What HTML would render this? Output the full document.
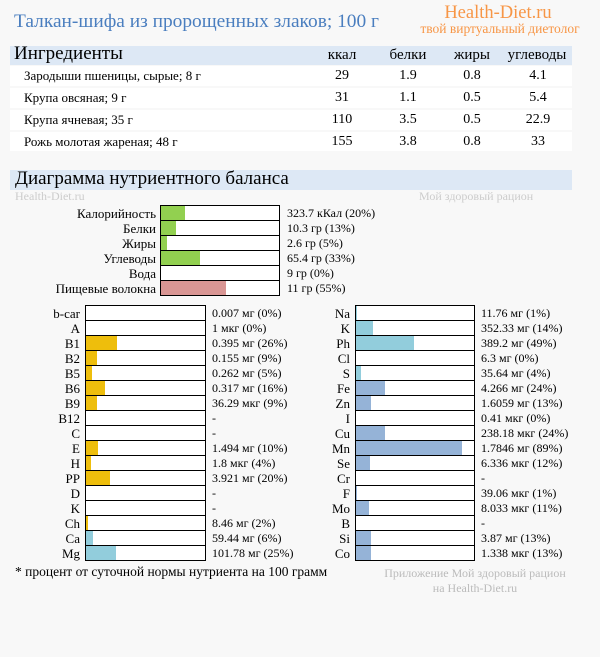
<!DOCTYPE html><html><head><meta charset="utf-8"><style>
body{margin:0;width:600px;height:657px;background:#f8f8f8;font-family:"Liberation Serif",serif;position:relative;overflow:hidden;color:#000}
div{position:absolute;white-space:nowrap}
.t{font-size:12px;line-height:15px}
.l{font-size:13px;line-height:15px}
.b{border:1px solid #000;background:#fff;height:14px}
.b i{position:absolute;left:0;top:0;height:14px;display:block}
.y{background:#eebe0c}.c{background:#92cddc}.s{background:#95b3d7}.g{background:#92d050}.p{background:#d99694}
.r{text-align:right}
.h{font-size:15px;text-align:center;width:80px}
.v{font-size:14px;text-align:center;width:80px;line-height:22px}
</style></head><body>
<div style="left:14px;top:11px;font-size:19.4px;color:#4a7ebf">Талкан-шифа из пророщенных злаков; 100 г</div>
<div style="left:438px;top:3px;width:120px;text-align:center;font-size:18.5px;color:#f79646">Health-Diet.ru</div>
<div style="left:400px;top:21px;width:200px;text-align:center;font-size:13.5px;color:#f79646">твой виртуальный диетолог</div>
<div style="left:10px;top:46px;width:562px;height:19px;background:#dde8f5"></div>
<div style="left:14px;top:43px;font-size:19px">Ингредиенты</div>
<div class="h" style="left:302px;top:47px">ккал</div>
<div class="h" style="left:368px;top:47px">белки</div>
<div class="h" style="left:432px;top:47px">жиры</div>
<div class="h" style="left:497px;top:47px">углеводы</div>
<div style="left:10px;top:66px;width:562px;height:20px;background:#fff"></div>
<div style="left:10px;top:88px;width:562px;height:20px;background:#fff"></div>
<div style="left:10px;top:110px;width:562px;height:20px;background:#fff"></div>
<div style="left:10px;top:132px;width:562px;height:19px;background:#fff"></div>
<div style="left:24px;top:65px;font-size:13px;line-height:22px">Зародыши пшеницы, сырые; 8 г<br>Крупа овсяная; 9 г<br>Крупа ячневая; 35 г<br>Рожь молотая жареная; 48 г</div>
<div class="v" style="left:302px;top:65px">29<br>31<br>110<br>155</div>
<div class="v" style="left:368px;top:65px">1.9<br>1.1<br>3.5<br>3.8</div>
<div class="v" style="left:432px;top:65px">0.8<br>0.5<br>0.5<br>0.8</div>
<div class="v" style="left:498px;top:65px">4.1<br>5.4<br>22.9<br>33</div>
<div style="left:10px;top:170px;width:562px;height:20px;background:#dde8f5"></div>
<div style="left:15px;top:168px;font-size:19px">Диаграмма нутриентного баланса</div>
<div style="left:15px;top:189px;font-size:12px;color:#ccc">Health-Diet.ru</div>
<div style="left:419px;top:189px;font-size:12px;color:#ccc">Мой здоровый рацион</div>

<div class="l r" style="left:0;width:156px;top:206px;white-space:pre">Калорийность
Белки
Жиры
Углеводы
Вода
Пищевые волокна</div>
<div class="b" style="left:160px;top:205px;width:118px"><i class="g" style="width:24px"></i></div>
<div class="b" style="left:160px;top:220px;width:118px"><i class="g" style="width:15px"></i></div>
<div class="b" style="left:160px;top:235px;width:118px"><i class="g" style="width:6px"></i></div>
<div class="b" style="left:160px;top:250px;width:118px"><i class="g" style="width:39px"></i></div>
<div class="b" style="left:160px;top:265px;width:118px"></div>
<div class="b" style="left:160px;top:280px;width:118px"><i class="p" style="width:65px"></i></div>
<div class="t" style="left:287px;top:206px;white-space:pre">323.7 кКал (20%)
10.3 гр (13%)
2.6 гр (5%)
65.4 гр (33%)
9 гр (0%)
11 гр (55%)</div>

<div class="l r" style="left:0;width:80px;top:306px;white-space:pre">b-car
A
B1
B2
B5
B6
B9
B12
C
E
H
PP
D
K
Ch
Ca
Mg</div>
<div class="t" style="left:212px;top:306px;white-space:pre">0.007 мг (0%)
1 мкг (0%)
0.395 мг (26%)
0.155 мг (9%)
0.262 мг (5%)
0.317 мг (16%)
36.29 мкг (9%)
-
-
1.494 мг (10%)
1.8 мкг (4%)
3.921 мг (20%)
-
-
8.46 мг (2%)
59.44 мг (6%)
101.78 мг (25%)</div>
<div class="b" style="left:85px;top:305px;width:119px"></div>
<div class="b" style="left:85px;top:320px;width:119px"></div>
<div class="b" style="left:85px;top:335px;width:119px"><i class="y" style="width:31px"></i></div>
<div class="b" style="left:85px;top:350px;width:119px"><i class="y" style="width:11px"></i></div>
<div class="b" style="left:85px;top:365px;width:119px"><i class="y" style="width:6px"></i></div>
<div class="b" style="left:85px;top:380px;width:119px"><i class="y" style="width:19px"></i></div>
<div class="b" style="left:85px;top:395px;width:119px"><i class="y" style="width:11px"></i></div>
<div class="b" style="left:85px;top:410px;width:119px"></div>
<div class="b" style="left:85px;top:425px;width:119px"></div>
<div class="b" style="left:85px;top:440px;width:119px"><i class="y" style="width:12px"></i></div>
<div class="b" style="left:85px;top:455px;width:119px"><i class="y" style="width:5px"></i></div>
<div class="b" style="left:85px;top:470px;width:119px"><i class="y" style="width:24px"></i></div>
<div class="b" style="left:85px;top:485px;width:119px"></div>
<div class="b" style="left:85px;top:500px;width:119px"></div>
<div class="b" style="left:85px;top:515px;width:119px"><i class="y" style="width:2px"></i></div>
<div class="b" style="left:85px;top:530px;width:119px"><i class="c" style="width:7px"></i></div>
<div class="b" style="left:85px;top:545px;width:119px"><i class="c" style="width:30px"></i></div>

<div class="l r" style="left:290px;width:60px;top:306px;white-space:pre">Na
K
Ph
Cl
S
Fe
Zn
I
Cu
Mn
Se
Cr
F
Mo
B
Si
Co</div>
<div class="t" style="left:481px;top:306px;white-space:pre">11.76 мг (1%)
352.33 мг (14%)
389.2 мг (49%)
6.3 мг (0%)
35.64 мг (4%)
4.266 мг (24%)
1.6059 мг (13%)
0.41 мкг (0%)
238.18 мкг (24%)
1.7846 мг (89%)
6.336 мкг (12%)
-
39.06 мкг (1%)
8.033 мкг (11%)
-
3.87 мг (13%)
1.338 мкг (13%)</div>
<div class="b" style="left:355px;top:305px;width:118px"><i class="c" style="width:1px"></i></div>
<div class="b" style="left:355px;top:320px;width:118px"><i class="c" style="width:17px"></i></div>
<div class="b" style="left:355px;top:335px;width:118px"><i class="c" style="width:58px"></i></div>
<div class="b" style="left:355px;top:350px;width:118px"></div>
<div class="b" style="left:355px;top:365px;width:118px"><i class="c" style="width:5px"></i></div>
<div class="b" style="left:355px;top:380px;width:118px"><i class="s" style="width:29px"></i></div>
<div class="b" style="left:355px;top:395px;width:118px"><i class="s" style="width:15px"></i></div>
<div class="b" style="left:355px;top:410px;width:118px"></div>
<div class="b" style="left:355px;top:425px;width:118px"><i class="s" style="width:29px"></i></div>
<div class="b" style="left:355px;top:440px;width:118px"><i class="s" style="width:106px"></i></div>
<div class="b" style="left:355px;top:455px;width:118px"><i class="s" style="width:14px"></i></div>
<div class="b" style="left:355px;top:470px;width:118px"></div>
<div class="b" style="left:355px;top:485px;width:118px"><i class="s" style="width:1px"></i></div>
<div class="b" style="left:355px;top:500px;width:118px"><i class="s" style="width:13px"></i></div>
<div class="b" style="left:355px;top:515px;width:118px"></div>
<div class="b" style="left:355px;top:530px;width:118px"><i class="s" style="width:15px"></i></div>
<div class="b" style="left:355px;top:545px;width:118px"><i class="s" style="width:15px"></i></div>

<div style="left:15px;top:564px;font-size:13.5px;line-height:15px">* процент от суточной нормы нутриента на 100 грамм</div>
<div class="t" style="left:375px;width:200px;top:566px;text-align:center;color:#bbb;white-space:pre">Приложение Мой здоровый рацион
на Health-Diet.ru</div>
</body></html>
